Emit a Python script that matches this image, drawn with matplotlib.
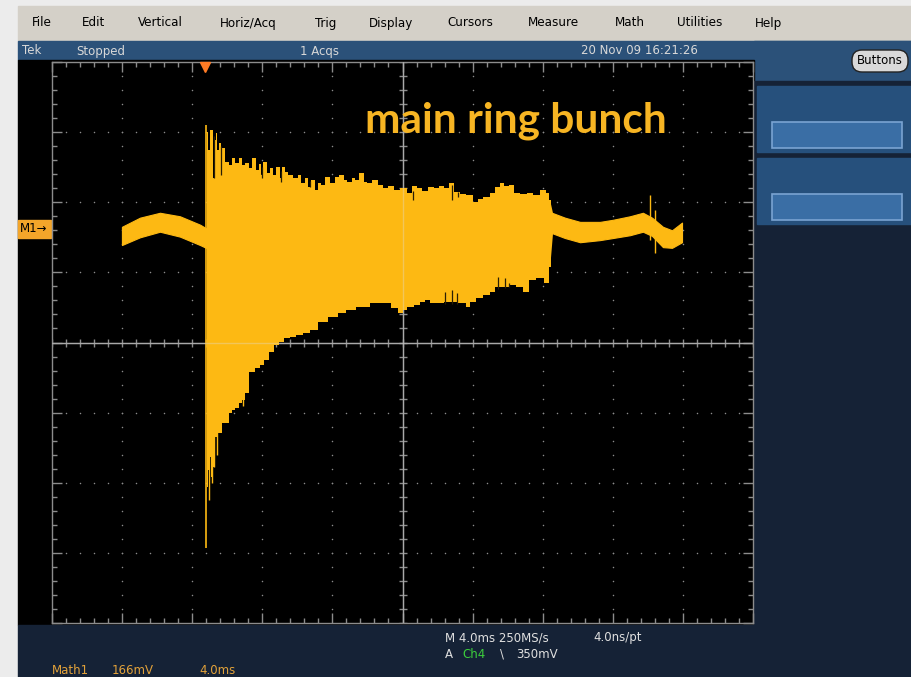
import numpy as np
import matplotlib
matplotlib.use('Agg')
import matplotlib.pyplot as plt
from matplotlib.patches import Rectangle, FancyBboxPatch

## data
# time in ms (4.0 ms/div), amplitude in divisions (166 mV/div)

# flat band before the bunch is injected
pre_t = [3.99, 5.02, 6.16, 7.30, 8.45, 8.79]
pre_top = [1.65, 1.78, 1.85, 1.80, 1.68, 1.63]
pre_bot = [1.39, 1.50, 1.58, 1.51, 1.39, 1.35]

# injection spike
inj_t = 8.79
inj_lo, inj_hi = -2.93, 3.10

# upper envelope of the bunch signal
up_t = [8.84, 8.90, 8.96, 9.02, 9.07, 9.13, 9.19, 9.24, 9.30, 9.41,
        9.47, 9.59, 9.64, 9.70, 9.81, 9.99, 10.16, 10.33, 10.56, 10.73,
        10.90, 11.13, 11.30, 11.58, 11.70, 11.87, 11.98, 12.15, 12.33, 12.55,
        12.72, 12.90, 13.07, 13.18, 13.41, 13.58, 13.87, 14.15, 14.32, 14.55,
        14.72, 14.89, 15.12, 15.29, 15.46, 15.75, 16.03, 16.26, 16.55, 16.72,
        17.00, 17.18, 17.40, 17.69, 17.86, 18.14, 18.43, 18.72, 19.00, 19.29,
        19.69, 20.03, 20.43, 20.71, 21.00, 21.28, 21.68, 21.97, 22.25, 22.54,
        22.82, 23.11, 23.45, 23.85, 24.14, 24.42, 24.82, 25.11, 25.39, 25.68,
        25.96, 26.25, 26.53, 26.88, 27.28, 27.67, 28.02, 28.30, 28.47]
up_v = [2.75, 3.00, 2.75, 3.03, 2.75, 3.03, 2.89, 2.35, 2.89, 2.99,
        2.75, 2.85, 2.39, 2.78, 2.78, 2.58, 2.53, 2.63, 2.56, 2.63,
        2.53, 2.56, 2.49, 2.63, 2.46, 2.55, 2.39, 2.58, 2.42, 2.49,
        2.39, 2.50, 2.35, 2.50, 2.43, 2.39, 2.35, 2.39, 2.28, 2.35,
        2.22, 2.32, 2.18, 2.28, 2.25, 2.36, 2.28, 2.36, 2.39, 2.32,
        2.29, 2.35, 2.32, 2.42, 2.29, 2.28, 2.32, 2.25, 2.20, 2.23,
        2.18, 2.20, 2.13, 2.23, 2.20, 2.16, 2.22, 2.20, 2.23, 2.20,
        2.28, 2.15, 2.12, 2.10, 2.00, 2.05, 2.08, 2.13, 2.22, 2.28,
        2.23, 2.25, 2.13, 2.12, 2.13, 2.10, 2.18, 2.13, 2.03]

# lower envelope of the bunch signal
lo_t = [8.84, 8.96, 9.02, 9.07, 9.19, 9.24, 9.41, 9.59, 9.76, 9.99,
        10.16, 10.33, 10.56, 10.73, 10.90, 11.13, 11.30, 11.47, 11.75, 11.98,
        12.27, 12.55, 12.84, 13.12, 13.41, 13.75, 14.15, 14.55, 14.89, 15.46,
        16.03, 16.60, 17.00, 17.75, 18.54, 19.12, 19.57, 19.86, 20.14, 20.43,
        20.83, 21.17, 21.40, 21.74, 22.14, 22.54, 22.88, 23.45, 23.74, 24.02,
        24.42, 24.82, 25.16, 25.45, 25.96, 26.30, 26.70, 27.10, 27.39, 27.85,
        28.25, 28.47]
lo_v = [-2.06, -1.82, -1.63, -1.92, -1.53, -1.78, -1.35, -1.29, -1.15, -1.15,
        -1.01, -0.96, -0.93, -0.86, -0.82, -0.72, -0.42, -0.42, -0.36, -0.32,
        -0.25, -0.14, -0.04, 0.01, 0.06, 0.08, 0.11, 0.14, 0.18, 0.29,
        0.36, 0.42, 0.46, 0.51, 0.56, 0.56, 0.49, 0.42, 0.46, 0.51,
        0.54, 0.58, 0.61, 0.56, 0.56, 0.58, 0.58, 0.56, 0.51, 0.58,
        0.64, 0.68, 0.72, 0.79, 0.79, 0.82, 0.79, 0.72, 0.89, 0.92,
        0.85, 1.08]

# trace spikes poking out of the envelope (time, low, high)
spike_t = [8.96, 9.13, 9.41, 9.24, 10.90, 34.13, 34.41]
spike_lo = [-2.25, -2.00, -1.60, -1.78, -0.90, 1.46, 1.28]
spike_hi = [2.00, 2.00, 2.00, 2.00, 0.00, 2.10, 1.89]

# dark gaps between the turns, at the edges (time, low, high)
gap_t = [9.24, 9.64, 11.98, 13.07, 14.72, 20.60, 22.82, 23.14,
         22.40, 22.82, 23.10, 25.45, 25.85, 26.10]
gap_lo = [2.35, 2.39, 2.35, 2.29, 2.22, 2.03, 2.03, 2.08,
          0.55, 0.55, 0.55, 0.77, 0.78, 0.79]
gap_hi = [2.95, 2.80, 2.50, 2.45, 2.30, 2.16, 2.25, 2.15,
          0.72, 0.75, 0.71, 0.93, 0.92, 0.85]

# band after the bunch is extracted
post_t = [28.53, 29.27, 30.13, 31.27, 32.01, 32.98, 33.72, 34.24, 34.86, 35.38, 35.95]
post_top = [1.85, 1.78, 1.72, 1.72, 1.75, 1.80, 1.85, 1.78, 1.65, 1.60, 1.71]
post_bot = [1.56, 1.49, 1.43, 1.46, 1.49, 1.53, 1.58, 1.52, 1.36, 1.35, 1.43]

trig_t = 8.73

menu_items = ['File', 'Edit', 'Vertical', 'Horiz/Acq', 'Trig', 'Display',
              'Cursors', 'Measure', 'Math', 'Utilities', 'Help']
menu_x = [32, 82, 138, 220, 315, 369, 447, 528, 615, 677, 755]

wave_col = '#fdb913'
grid_col = '#8c8c8c'
navy = '#152236'

fig = plt.figure(figsize=(9.12, 6.77), dpi=100, facecolor='#ececec')

# ---- instrument window (pixel coordinates)
ui = fig.add_axes([0, 0, 1, 1])
ui.set_xlim(0, 912)
ui.set_ylim(677, 0)
ui.axis('off')

ui.add_patch(Rectangle((18, 6), 894, 35, color='#d4d0c8'))
ui.add_patch(Rectangle((18, 41), 894, 19, color='#2b5179'))
ui.add_patch(Rectangle((754, 41), 158, 40, color='#2b5179'))
ui.add_patch(Rectangle((18, 60), 736, 565, color='black'))
ui.add_patch(Rectangle((18, 625), 894, 52, color=navy))
ui.add_patch(Rectangle((754, 81), 158, 544, color=navy))
for top in [86, 158]:
    ui.add_patch(Rectangle((757, top), 155, 66, color='#26507c'))
    ui.add_patch(Rectangle((772, top + 36), 130, 26, facecolor='#3a6ea5',
                           edgecolor='#7aa3d2', lw=1.2))

ui.add_patch(FancyBboxPatch((852, 50), 56, 22, boxstyle='round,pad=0,rounding_size=10',
                            facecolor='#d9d9d9', edgecolor='#222222', lw=1))
ui.text(880, 61, 'Buttons', fontsize=8.5, ha='center', va='center', color='black')

for name, x in zip(menu_items, menu_x):
    ui.text(x, 23, name, fontsize=9.5, va='center', color='black', fontstretch='condensed')

status_col = '#d8d8d8'
ui.text(22, 51, 'Tek', fontsize=8.5, va='center', color=status_col)
ui.text(76, 51, 'Stopped', fontsize=8.5, va='center', color=status_col)
ui.text(300, 51, '1 Acqs', fontsize=8.5, va='center', color=status_col)
ui.text(581, 51, '20 Nov 09 16:21:26', fontsize=8.5, va='center', color=status_col)

ui.add_patch(Rectangle((18, 220), 33, 18, color='#f3a52a'))
ui.text(20, 229, 'M1→', fontsize=8.5, va='center', color='black')

ui.text(445, 638, 'M 4.0ms 250MS/s', fontsize=8.5, va='center', color='#e0e0e0')
ui.text(593, 638, '4.0ns/pt', fontsize=8.5, va='center', color='#e0e0e0')
ui.text(445, 654, 'A', fontsize=8.5, va='center', color='#e0e0e0')
ui.text(462, 654, 'Ch4', fontsize=8.5, va='center', color='#3ccf3c')
ui.text(500, 654, '\\', fontsize=8.5, va='center', color='#e0e0e0')
ui.text(516, 654, '350mV', fontsize=8.5, va='center', color='#e0e0e0')
ui.text(52, 670, 'Math1', fontsize=8.5, va='center', color='#e3a23a')
ui.text(112, 670, '166mV', fontsize=8.5, va='center', color='#e3a23a')
ui.text(199, 670, '4.0ms', fontsize=8.5, va='center', color='#e3a23a')

# ---- scope graticule
ax = fig.add_axes([52 / 912, (677 - 623) / 677, 701 / 912, 561 / 677])
ax.set_facecolor('black')
ax.set_xlim(0, 40)
ax.set_ylim(-4, 4)
for s in ax.spines.values():
    s.set_color(grid_col)
    s.set_linewidth(1)
ax.set_xticks(np.arange(0, 41, 4))
ax.set_yticks(np.arange(-4, 5, 1))
ax.set_xticks(np.arange(0, 40.01, 0.8), minor=True)
ax.set_yticks(np.arange(-4, 4.01, 0.2), minor=True)
ax.tick_params(which='both', direction='in', colors=grid_col, top=True, right=True,
               labelbottom=False, labelleft=False)
ax.tick_params(which='major', length=7, width=1)
ax.tick_params(which='minor', length=3.5, width=1)

minor_x = np.arange(0, 40.01, 0.8)
minor_y = np.arange(-4, 4.01, 0.2)
for yv in range(-3, 4):
    if yv != 0:
        ax.scatter(minor_x, np.full(len(minor_x), yv), s=1.2, color=grid_col, lw=0, zorder=1)
for xv in range(4, 40, 4):
    if xv != 20:
        ax.scatter(np.full(len(minor_y), xv), minor_y, s=1.2, color=grid_col, lw=0, zorder=1)

ax.axhline(0, color=grid_col, lw=1, zorder=1)
ax.axvline(20, color=grid_col, lw=1, zorder=1)
ax.plot(minor_x, np.zeros(len(minor_x)), ls='none', marker='|', ms=6, mew=1, color=grid_col, zorder=1)
ax.plot(np.full(len(minor_y), 20), minor_y, ls='none', marker='_', ms=6, mew=1, color=grid_col, zorder=1)

# ---- waveform
mid = 1.4  # upper and lower halves of the burst meet here
ax.fill_between(pre_t, pre_bot, pre_top, color=wave_col, lw=0.8, edgecolor=wave_col, zorder=3)
ax.fill_between(post_t, post_bot, post_top, color=wave_col, lw=0.8, edgecolor=wave_col, zorder=3)
ax.fill_between(up_t, mid, up_v, step='mid', color=wave_col, lw=0, zorder=3)
ax.fill_between(lo_t, lo_v, mid, step='mid', color=wave_col, lw=0, zorder=3)
ax.fill_between([28.40, 28.56], [1.08, 1.56], [2.03, 1.85], color=wave_col, lw=0, zorder=3)
ax.vlines([inj_t], inj_lo, inj_hi, color=wave_col, lw=1.2, zorder=3)
ax.vlines(spike_t, spike_lo, spike_hi, color=wave_col, lw=1.0, zorder=3)
ax.vlines(gap_t, gap_lo, gap_hi, color='#2a1f05', lw=0.9, zorder=3.5)

# crosshair shows faintly through the trace
ax.axhline(0, color='#e0e0e0', lw=1, alpha=0.35, zorder=4)
ax.axvline(20, color='#e0e0e0', lw=1, alpha=0.35, zorder=4)

ax.plot([trig_t], [3.93], marker='v', ms=7, color='#ff7b25', mec='#ff7b25', clip_on=False, zorder=5)

ax.text(17.86, 2.99, 'main ring bunch', fontsize=30.5, fontweight='bold', family='Lato',
        color='#f7b523', va='baseline', zorder=6)

plt.savefig('out.png', dpi=100, facecolor=fig.get_facecolor())
